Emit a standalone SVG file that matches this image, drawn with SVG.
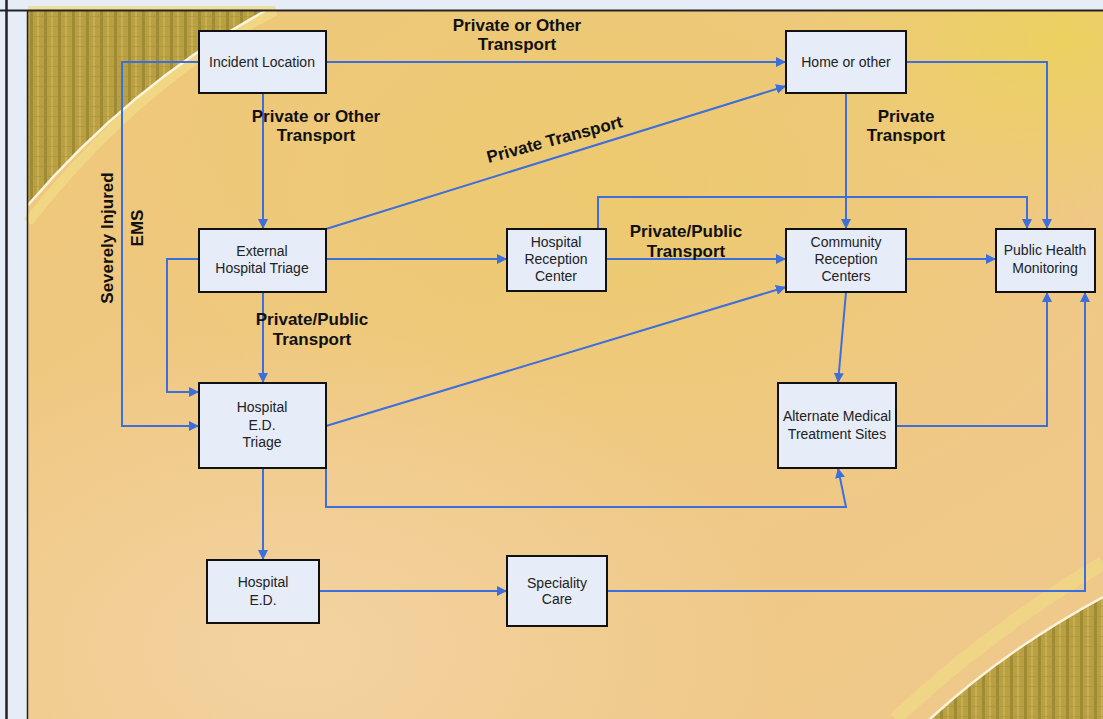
<svg xmlns="http://www.w3.org/2000/svg" width="1103" height="719" viewBox="0 0 1103 719">
<defs>
<style>
.node rect{fill:#e6ecf8;stroke:#111;stroke-width:2}
.node text{font-family:"Liberation Sans",Arial,sans-serif;font-size:14px;fill:#222;text-anchor:middle}
.lbl{font-family:"Liberation Sans",Arial,sans-serif;font-size:17px;font-weight:bold;fill:#111;text-anchor:middle}
#connectors path{fill:none;stroke:#3d6fdc;stroke-width:2;marker-end:url(#arr)}
</style>
<marker id="arr" viewBox="0 0 10 10" refX="10" refY="5" markerWidth="10" markerHeight="10" markerUnits="userSpaceOnUse" orient="auto">
<path d="M0,0 L10,5 L0,10 z" fill="#3d6fdc"/>
</marker>
<linearGradient id="bg" x1="0" y1="0" x2="1" y2="1">
<stop offset="0" stop-color="#eec87a"/>
<stop offset="0.5" stop-color="#f0c886"/>
<stop offset="1" stop-color="#efc98a"/>
</linearGradient>
<radialGradient id="yel" cx="0.55" cy="0.25" r="0.5">
<stop offset="0" stop-color="#ecca6c" stop-opacity="0.9"/>
<stop offset="1" stop-color="#ecca6c" stop-opacity="0"/>
</radialGradient>
<radialGradient id="peach" cx="0.25" cy="0.9" r="0.45">
<stop offset="0" stop-color="#f4d4a4" stop-opacity="0.9"/>
<stop offset="1" stop-color="#f4d4a4" stop-opacity="0"/>
</radialGradient>
<radialGradient id="tr" cx="0.96" cy="0.04" r="0.25">
<stop offset="0" stop-color="#ebd25c" stop-opacity="0.9"/>
<stop offset="1" stop-color="#ebd25c" stop-opacity="0"/>
</radialGradient>
<pattern id="stripes" width="14" height="10" patternUnits="userSpaceOnUse">
<rect width="14" height="10" fill="#b9a143"/>
<rect x="2" width="3" height="10" fill="#a08a33"/>
<rect x="9" width="2" height="10" fill="#c8b052"/>
<rect y="6" width="14" height="1" fill="#a89238" opacity="0.5"/>
</pattern>
</defs>
<rect width="1103" height="719" fill="#e7edf7"/>
<rect x="28" y="11" width="1075" height="708" fill="url(#bg)"/>
<rect x="28" y="11" width="1075" height="708" fill="url(#yel)"/>
<rect x="28" y="11" width="1075" height="708" fill="url(#peach)"/>
<rect x="28" y="11" width="1075" height="708" fill="url(#tr)"/>
<path d="M28,11 L275,11 Q140,80 28,222" fill="none" stroke="#f1da86" stroke-width="10" opacity="0.8"/>
<path d="M28,11 L265,11 Q134,82 28,205 Z" fill="url(#stripes)"/>
<path d="M265,11 Q134,82 28,205" fill="none" stroke="#fbf3dc" stroke-width="2.5"/>
<path d="M895,719 Q990,630 1103,563" fill="none" stroke="#f1da86" stroke-width="14" opacity="0.7"/>
<path d="M930,719 Q1005,650 1103,597 L1103,719 Z" fill="url(#stripes)"/>
<path d="M930,719 Q1005,650 1103,597" fill="none" stroke="#fbf3dc" stroke-width="2.5"/>
<line x1="0" y1="10.5" x2="1103" y2="10.5" stroke="#222" stroke-width="2"/>
<line x1="6.5" y1="0" x2="6.5" y2="719" stroke="#222" stroke-width="2.5"/>
<line x1="27.5" y1="11" x2="27.5" y2="719" stroke="#222" stroke-width="1.5"/>
<g id="connectors">
<path d="M326,62 H786"/>
<path d="M263,93 V229"/>
<path d="M199,62 H122 V426 H199"/>
<path d="M199,259 H167 V392 H199"/>
<path d="M263,292 V383"/>
<path d="M326,259 H507"/>
<path d="M326,229 L786,86"/>
<path d="M606,259 H786"/>
<path d="M598,229 V197 H1027 V229"/>
<path d="M906,62 H1047 V229"/>
<path d="M846,93 V229"/>
<path d="M906,259 H996"/>
<path d="M326,426 L786,287"/>
<path d="M846,292 L838,383"/>
<path d="M326,468 V507 H846 L838,468"/>
<path d="M896,426 H1047 V292"/>
<path d="M607,591 H1085 V292"/>
<path d="M263,468 V560"/>
<path d="M319,591 H507"/>
</g>
<g id="labels">
<text class="lbl" x="517" y="31">Private or Other</text>
<text class="lbl" x="517" y="50">Transport</text>
<text class="lbl" x="316" y="122">Private or Other</text>
<text class="lbl" x="316" y="141">Transport</text>
<text class="lbl" x="906" y="122">Private</text>
<text class="lbl" x="906" y="141">Transport</text>
<text class="lbl" x="686" y="237">Private/Public</text>
<text class="lbl" x="686" y="257">Transport</text>
<text class="lbl" x="312" y="325">Private/Public</text>
<text class="lbl" x="312" y="345">Transport</text>
<text class="lbl" transform="translate(556,145) rotate(-15)">Private Transport</text>
<text class="lbl" transform="translate(113,238) rotate(-90)">Severely Injured</text>
<text class="lbl" transform="translate(143,228) rotate(-90)">EMS</text>
</g>
<g id="incident" class="node"><rect x="199" y="31" width="127" height="62"/><text x="262" y="67">Incident Location</text></g>
<g id="home" class="node"><rect x="786" y="31" width="120" height="62"/><text x="846" y="67">Home or other</text></g>
<g id="ext-triage" class="node"><rect x="199" y="229" width="127" height="63"/><text x="262" y="256">External</text><text x="262" y="273">Hospital Triage</text></g>
<g id="ed-triage" class="node"><rect x="199" y="383" width="127" height="85"/><text x="262" y="412">Hospital</text><text x="262" y="430">E.D.</text><text x="262" y="447">Triage</text></g>
<g id="hrc" class="node"><rect x="507" y="229" width="99" height="62"/><text x="556" y="247">Hospital</text><text x="556" y="264">Reception</text><text x="556" y="281">Center</text></g>
<g id="crc" class="node"><rect x="786" y="229" width="120" height="63"/><text x="846" y="247">Community</text><text x="846" y="264">Reception</text><text x="846" y="281">Centers</text></g>
<g id="phm" class="node"><rect x="996" y="229" width="99" height="63"/><text x="1045" y="255">Public Health</text><text x="1045" y="273">Monitoring</text></g>
<g id="amts" class="node"><rect x="778" y="383" width="118" height="85"/><text x="837" y="421">Alternate Medical</text><text x="837" y="439">Treatment Sites</text></g>
<g id="hed" class="node"><rect x="207" y="560" width="112" height="63"/><text x="263" y="587">Hospital</text><text x="263" y="605">E.D.</text></g>
<g id="sc" class="node"><rect x="507" y="556" width="100" height="70"/><text x="557" y="588">Speciality</text><text x="557" y="604">Care</text></g>
</svg>
